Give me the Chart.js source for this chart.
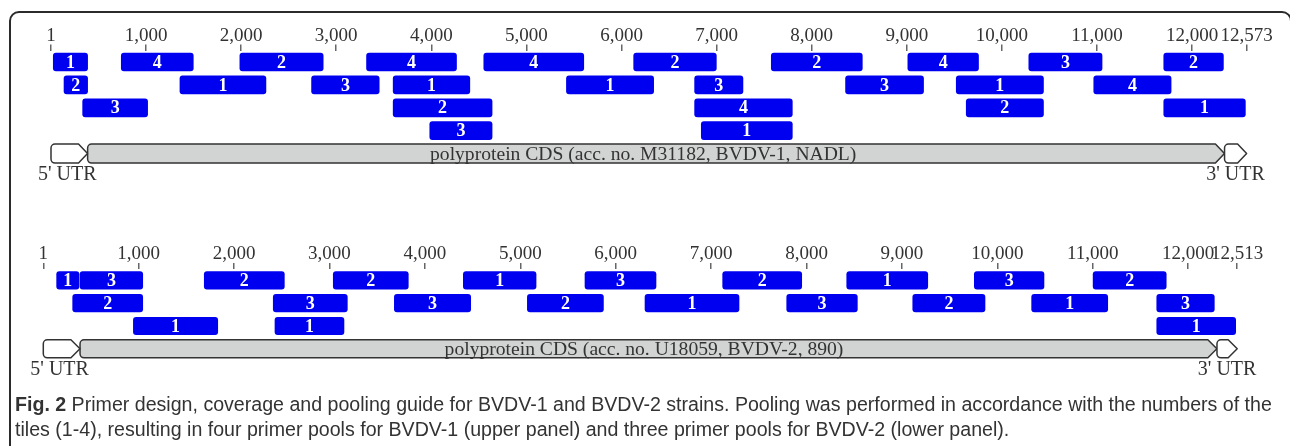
<!DOCTYPE html>
<html>
<head>
<meta charset="utf-8">
<script src="https://cdn.jsdelivr.net/npm/chart.js@4.4.0/dist/chart.umd.min.js"></script>
<style>
  html, body { margin: 0; padding: 0; background: #fff; }
  body { width: 1290px; height: 446px; position: relative; overflow: hidden; }
  #frame { position: absolute; left: 9px; top: 11px; width: 1283px; height: 470px;
    border: 2px solid #2b2b2b; border-radius: 10px; box-sizing: border-box; }
  canvas { position: absolute; left: 0; top: 0; }
  #caption { position: absolute; left: 15px; top: 392px; width: 1272px;
    font-family: "Liberation Sans", sans-serif; font-size: 19.6px;
    line-height: 25px; color: #333; white-space: nowrap; }
  #caption b { color: #333; }
</style>
</head>
<body>
<div id="frame"></div>
<canvas id="top" width="1290" height="446"></canvas>
<canvas id="bottom" width="1290" height="446"></canvas>
<div id="caption"><b>Fig. 2</b> Primer design, coverage and pooling guide for BVDV-1 and BVDV-2 strains. Pooling was performed in accordance with the numbers of the<br>tiles (1-4), resulting in four primer pools for BVDV-1 (upper panel) and three primer pools for BVDV-2 (lower panel).</div>
<script>
// BVDV-1 (NADL) tiles
const bvdv1Start = [25, 740, 1987, 3319, 4552, 6128, 7575, 9011, 10283, 11702,
  138, 1357, 2741, 3599, 5421, 6769, 8356, 9520, 10966,
  334, 3599, 6769, 9625, 11702,
  3984, 6839];
const bvdv1End = [386, 1497, 2863, 4265, 5603, 6997, 8532, 9754, 11053, 12329,
  386, 2261, 3452, 4405, 6338, 7277, 9176, 10437, 11779,
  1017, 4639, 7796, 10437, 12560,
  4639, 7796];
const bvdv1Row = [1, 1, 1, 1, 1, 1, 1, 1, 1, 1,
  2, 2, 2, 2, 2, 2, 2, 2, 2,
  3, 3, 3, 3, 3,
  4, 4];
const bvdv1Pool = [1, 4, 2, 4, 4, 2, 2, 4, 3, 2,
  2, 1, 3, 1, 1, 3, 3, 1, 4,
  3, 2, 4, 2, 1,
  3, 1];
const bvdv1Ticks = [1, 1000, 2000, 3000, 4000, 5000, 6000, 7000, 8000, 9000, 10000, 11000, 12000, 12573];
const bvdv1Utr5 = [1, 385];
const bvdv1Cds = [386, 12340];
const bvdv1Utr3 = [12341, 12573];
const bvdv1LabelAt = 6228;

// BVDV-2 (890) tiles
const bvdv2Start = [141, 386, 1688, 3040, 4403, 5678, 7121, 8421, 9758, 11003,
  309, 2411, 3680, 5074, 6307, 7792, 9113, 10359, 11670,
  945, 2429, 11670];
const bvdv2End = [375, 1043, 2527, 3826, 5165, 6422, 7949, 9270, 10488, 11769,
  1043, 3187, 4480, 5871, 7292, 8532, 9870, 11156, 12273,
  1829, 3152, 12497];
const bvdv2Row = [1, 1, 1, 1, 1, 1, 1, 1, 1, 1,
  2, 2, 2, 2, 2, 2, 2, 2, 2,
  3, 3, 3];
const bvdv2Pool = [1, 3, 2, 2, 1, 3, 2, 1, 3, 2,
  2, 3, 3, 2, 1, 3, 2, 1, 3,
  1, 1, 1];
const bvdv2Ticks = [1, 1000, 2000, 3000, 4000, 5000, 6000, 7000, 8000, 9000, 10000, 11000, 12000, 12513];
const bvdv2Utr5 = [1, 385];
const bvdv2Cds = [386, 12300];
const bvdv2Utr3 = [12301, 12513];
const bvdv2LabelAt = 6296;

const serif = '"Liberation Serif", "DejaVu Serif", serif';

// white pool numbers in the middle of each tile
const poolLabels = {
  id: 'poolLabels',
  afterDatasetsDraw(chart) {
    const ctx = chart.ctx;
    const ds = chart.data.datasets[0];
    const meta = chart.getDatasetMeta(0);
    ctx.save();
    ctx.fillStyle = '#fff';
    ctx.font = 'bold 18px ' + serif;
    ctx.textAlign = 'center';
    ctx.textBaseline = 'middle';
    meta.data.forEach((bar, i) => {
      const c = bar.getCenterPoint();
      ctx.fillText(String(ds.pools[i]), c.x, c.y + 1);
    });
    ctx.restore();
  }
};

function arrowBox(ctx, x0, x1, yc, h, tip, r) {
  const top = yc - h / 2, bot = yc + h / 2;
  ctx.beginPath();
  ctx.moveTo(x0 + r, top);
  ctx.lineTo(x1 - tip, top);
  ctx.lineTo(x1, yc);
  ctx.lineTo(x1 - tip, bot);
  ctx.lineTo(x0 + r, bot);
  ctx.arcTo(x0, bot, x0, bot - r, r);
  ctx.lineTo(x0, top + r);
  ctx.arcTo(x0, top, x0 + r, top, r);
  ctx.closePath();
  ctx.fill();
  ctx.stroke();
}

// UTRs + polyprotein CDS row
const genomeMap = {
  id: 'genomeMap',
  afterDatasetsDraw(chart, args, opts) {
    const ctx = chart.ctx;
    const xs = chart.scales.x, ys = chart.scales.y;
    const yc = ys.getPixelForValue(ys.getLabels().length - 1);
    const h = opts.height;
    const p = v => xs.getPixelForValue(v);
    ctx.save();
    ctx.strokeStyle = '#333';
    ctx.lineWidth = 1.5;
    ctx.lineJoin = 'round';
    ctx.fillStyle = '#d2d3d3';
    arrowBox(ctx, p(opts.cds[0]), p(opts.cds[1]), yc, h, 9, 4);
    ctx.fillStyle = '#fff';
    arrowBox(ctx, p(opts.utr5[0]), p(opts.utr5[1]), yc, h, 9, 4);
    arrowBox(ctx, p(opts.utr3[0]), p(opts.utr3[1]), yc, h, 9, 4);
    ctx.fillStyle = '#333';
    ctx.textAlign = 'center';
    ctx.textBaseline = 'middle';
    ctx.font = '19.6px ' + serif;
    ctx.fillText(opts.label, p(opts.labelAt), yc + 1);
    ctx.font = '20px ' + serif;
    ctx.fillText("5' UTR", (p(opts.utr5[0]) + p(opts.utr5[1])) / 2 - 2, yc + h / 2 + 12);
    ctx.fillText("3' UTR", (p(opts.utr3[0]) + p(opts.utr3[1])) / 2, yc + h / 2 + 12);
    ctx.restore();
  }
};

function makePanel(id, cfg) {
  const labels = [];
  for (let r = 1; r < cfg.rows; r++) labels.push('row' + r);
  labels.push('cds');
  return new Chart(document.getElementById(id), {
    type: 'bar',
    data: {
      labels: labels,
      datasets: [{
        data: cfg.start.map((s, i) => ({ x: [s, cfg.end[i]], y: 'row' + cfg.row[i] })),
        pools: cfg.pool,
        backgroundColor: '#0000f0',
        borderWidth: 0,
        borderRadius: 3,
        borderSkipped: false,
        barThickness: cfg.barThickness,
        grouped: false
      }]
    },
    options: {
      indexAxis: 'y',
      responsive: false,
      animation: false,
      layout: { padding: cfg.padding },
      plugins: {
        legend: { display: false },
        tooltip: { enabled: false },
        genomeMap: { utr5: cfg.utr5, cds: cfg.cds, utr3: cfg.utr3, label: cfg.label,
          labelAt: cfg.labelAt, height: cfg.mapHeight }
      },
      scales: {
        x: {
          type: 'linear',
          position: 'top',
          min: 1,
          max: cfg.ticks[cfg.ticks.length - 1],
          afterBuildTicks: scale => { scale.ticks = cfg.ticks.map(v => ({ value: v })); },
          grid: { drawOnChartArea: false, tickLength: 6, color: '#666', lineWidth: 1.5 },
          border: { display: false },
          ticks: {
            padding: 0,
            autoSkip: false,
            maxRotation: 0,
            minRotation: 0,
            color: '#333',
            font: { family: serif, size: 19, lineHeight: 0.9 },
            callback: v => v.toLocaleString('en-US')
          }
        },
        y: { type: 'category', display: false }
      }
    },
    plugins: [genomeMap, poolLabels]
  });
}

makePanel('top', {
  rows: 5,
  start: bvdv1Start, end: bvdv1End, row: bvdv1Row, pool: bvdv1Pool, ticks: bvdv1Ticks,
  utr5: bvdv1Utr5, cds: bvdv1Cds, utr3: bvdv1Utr3, labelAt: bvdv1LabelAt,
  label: 'polyprotein CDS (acc. no. M31182, BVDV-1, NADL)',
  barThickness: 18, mapHeight: 19,
  padding: { left: 51, right: 43.4, top: 27.5, bottom: 281 }
});

makePanel('bottom', {
  rows: 4,
  start: bvdv2Start, end: bvdv2End, row: bvdv2Row, pool: bvdv2Pool, ticks: bvdv2Ticks,
  utr5: bvdv2Utr5, cds: bvdv2Cds, utr3: bvdv2Utr3, labelAt: bvdv2LabelAt,
  label: 'polyprotein CDS (acc. no. U18059, BVDV-2, 890)',
  barThickness: 17.5, mapHeight: 18,
  padding: { left: 43.3, right: 52.8, top: 245.9, bottom: 85.8 }
});
</script>
</body>
</html>
